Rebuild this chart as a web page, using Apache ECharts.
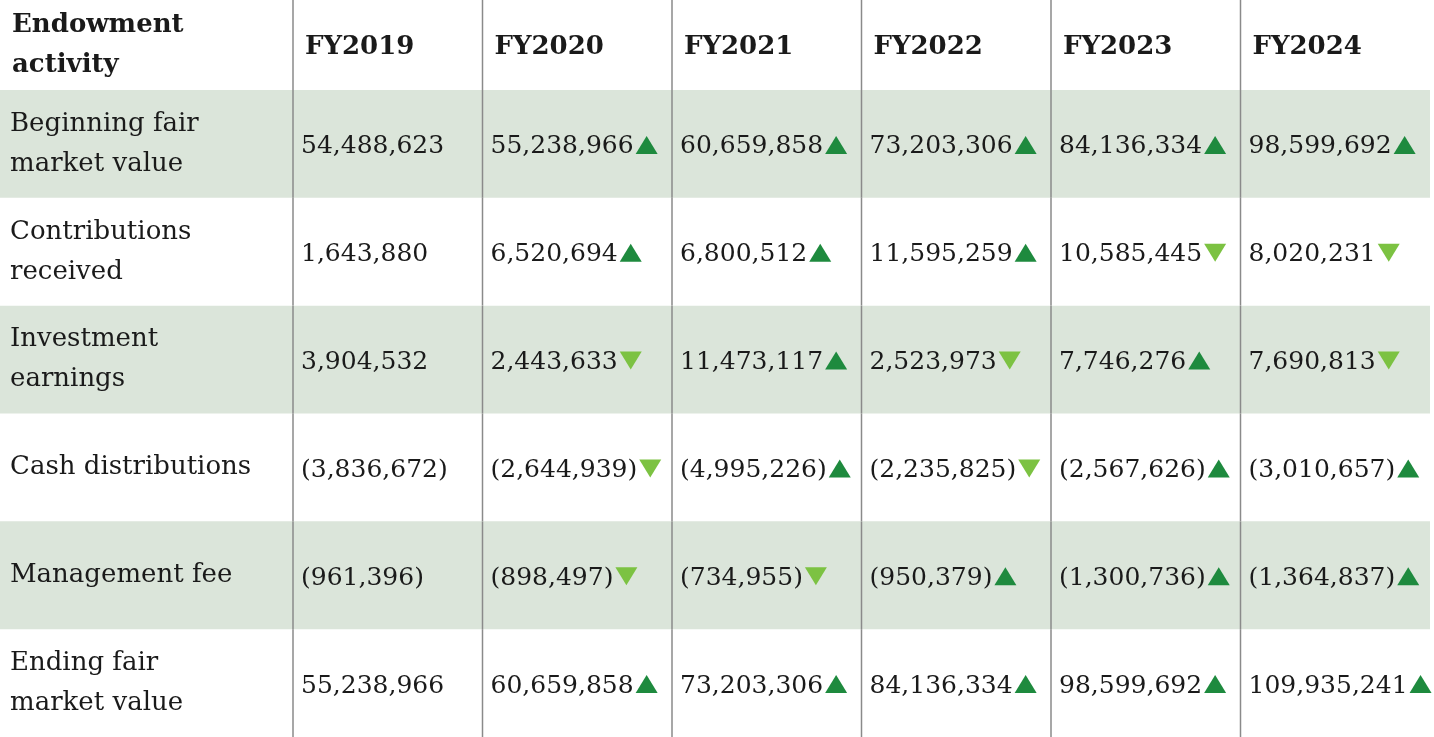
<!DOCTYPE html><html><head><meta charset="utf-8">
<script src="https://cdn.jsdelivr.net/npm/echarts@6/dist/echarts.min.js"></script>
<style>html,body{margin:0;padding:0;background:#fff}#c{width:1434px;height:737px}</style></head><body><div id="c"></div>
<script>
const headerTitle = "Endowment\nactivity";
const years = ["FY2019","FY2020","FY2021","FY2022","FY2023","FY2024"];
const rowLabels = ["Beginning fair\nmarket value","Contributions\nreceived","Investment\nearnings","Cash distributions","Management fee","Ending fair\nmarket value"];
const values = [
 ["54,488,623","55,238,966","60,659,858","73,203,306","84,136,334","98,599,692"],
 ["1,643,880","6,520,694","6,800,512","11,595,259","10,585,445","8,020,231"],
 ["3,904,532","2,443,633","11,473,117","2,523,973","7,746,276","7,690,813"],
 ["(3,836,672)","(2,644,939)","(4,995,226)","(2,235,825)","(2,567,626)","(3,010,657)"],
 ["(961,396)","(898,497)","(734,955)","(950,379)","(1,300,736)","(1,364,837)"],
 ["55,238,966","60,659,858","73,203,306","84,136,334","98,599,692","109,935,241"]
];
const arrows = [
 ["","u","u","u","u","u"],
 ["","u","u","u","d","d"],
 ["","d","u","d","u","d"],
 ["","d","u","d","u","u"],
 ["","d","d","u","u","u"],
 ["","u","u","u","u","u"]
];
const FONT = '25px "DejaVu Serif"';
const ctx = document.createElement('canvas').getContext('2d');
ctx.font = FONT;
const data = [];
values.forEach((r,ri)=>r.forEach((v,ci)=>data.push([ci,ri,v,arrows[ri][ci]])));
const UP='#1e8a3e', DOWN='#7cc242', BAND='#dbe5da', TXT='#1a1a1a', LINE='#8a8a8a';
function renderItem(params, api){
  const ci=api.value(0), ri=api.value(1);
  const c=api.coord([ci,ri]); const s=api.size([1,1]);
  const cs=params.coordSys;
  const x0=c[0]-s[0]/2, y0=c[1]-s[1]/2;
  const kids=[];
  if(ci===0){
    if(ri%2===0) kids.push({type:'rect',shape:{x:0,y:y0,width:cs.x+cs.width,height:s[1]},style:{fill:BAND}});
    kids.push({type:'text',x:10,y:c[1],style:{text:rowLabels[ri],font:'26px "DejaVu Serif"',fill:TXT,verticalAlign:'middle',lineHeight:40}});
    if(ri===0){
      kids.push({type:'text',x:12,y:cs.y/2,style:{text:headerTitle,font:'bold 26px "DejaVu Serif"',fill:TXT,verticalAlign:'middle',lineHeight:40}});
    }
  }
  if(ri===0){
    kids.push({type:'text',x:x0+12,y:cs.y/2+2,style:{text:years[ci],font:'bold 26px "DejaVu Serif"',fill:TXT,verticalAlign:'middle'}});
    kids.push({type:'line',shape:{x1:x0,y1:0,x2:x0,y2:y0},style:{stroke:LINE,lineWidth:1.5}});
  }
  kids.push({type:'line',shape:{x1:x0,y1:y0,x2:x0,y2:y0+s[1]},style:{stroke:LINE,lineWidth:1.5}});
  const v=api.value(2);
  kids.push({type:'text',x:x0+8,y:c[1]+3,style:{text:v,font:FONT,fill:TXT,verticalAlign:'middle'}});
  const a=values[ri][ci]&&arrows[ri][ci];
  if(a){
    const w=ctx.measureText(v).width;
    const ax=x0+8+w+2, aw=22, ah=18, cy=c[1]+1;
    const pts=a==='u'?[[ax,cy+ah/2],[ax+aw,cy+ah/2],[ax+aw/2,cy-ah/2]]:[[ax,cy-ah/2],[ax+aw,cy-ah/2],[ax+aw/2,cy+ah/2]];
    kids.push({type:'polygon',shape:{points:pts},style:{fill:a==='u'?UP:DOWN}});
  }
  return {type:'group',children:kids};
}
const chart=echarts.init(document.getElementById('c'));
chart.setOption({
  animation:false,
  grid:{left:293,right:4,top:90,bottom:0},
  xAxis:{type:'category',data:years,show:false},
  yAxis:{type:'category',data:rowLabels,inverse:true,show:false},
  series:[{type:'custom',renderItem,data,encode:{x:0,y:1}}]
});
</script></body></html>
